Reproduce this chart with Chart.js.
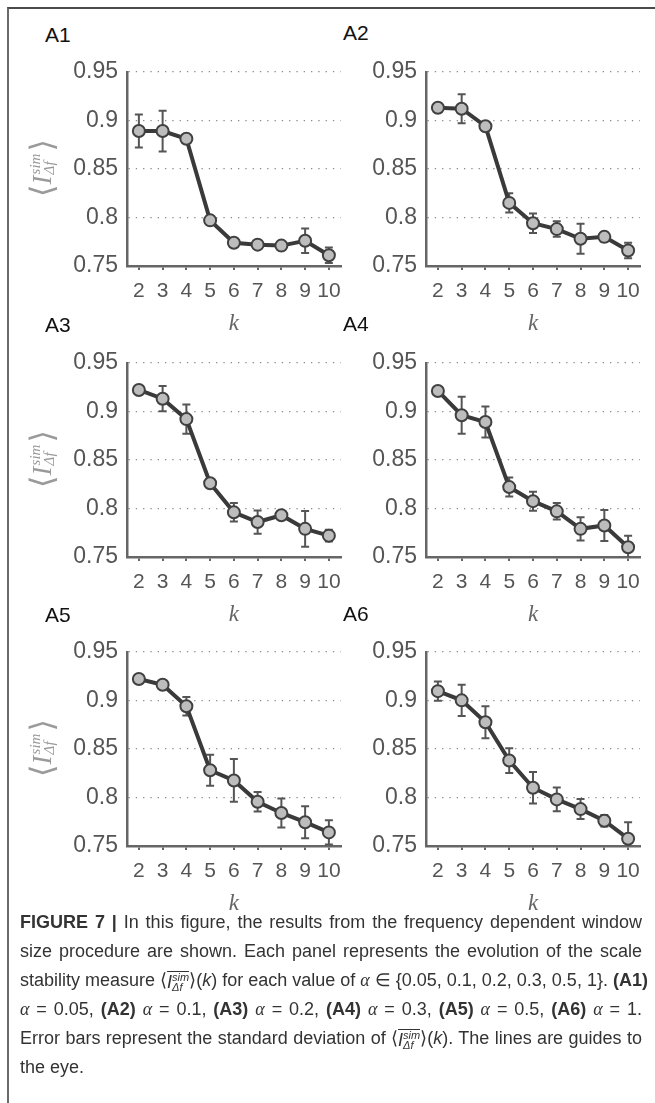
<!DOCTYPE html>
<html>
<head>
<meta charset="utf-8">
<script src="https://cdn.jsdelivr.net/npm/chart.js@4.4.1/dist/chart.umd.min.js"></script>
<style>
  body {
    margin: 0;
    width: 655px;
    height: 1103px;
    background: #fff;
    position: relative;
    overflow: hidden;
    font-family: "Liberation Sans", Arial, sans-serif;
  }
  .frame {
    position: absolute;
    left: 7px;
    top: 7px;
    width: 700px;
    height: 1200px;
    border-left: 2px solid #6a6a6a;
    border-top: 2px solid #4a4a4a;
  }
  canvas {
    position: absolute;
  }
  .panelName {
    position: absolute;
    font-size: 21px;
    line-height: 21px;
    color: #111;
    z-index: 2;
  }
  .yTitle {
    position: absolute;
    width: 90px;
    height: 36px;
    margin-left: -45px;
    margin-top: -18px;
    transform: rotate(-90deg);
    display: flex;
    align-items: center;
    justify-content: center;
    color: #9a9a9a;
    font-family: "Liberation Serif", serif;
    font-size: 27px;
    z-index: 2;
  }
  .yTitle .br {
    font-size: 32px;
    font-family: "DejaVu Serif", serif;
    font-weight: 300;
  }
  .yTitle .ss {
    display: inline-flex;
    flex-direction: column;
    font-size: 15px;
    line-height: 14px;
    font-style: italic;
    margin: 0 2px 0 1px;
  }
  .caption {
    position: absolute;
    left: 20px;
    top: 908px;
    width: 622px;
    font-size: 18px;
    color: #333;
  }
  .caption .ln {
    height: 29px;
    line-height: 29px;
    white-space: nowrap;
    text-align: justify;
    text-align-last: justify;
  }
  .caption .last {
    text-align-last: left;
  }
  .caption .m {
    font-family: "Liberation Serif", serif;
    font-style: italic;
  }
  .caption .ov {
    display: inline-flex;
    align-items: center;
    border-top: 1px solid #333;
    line-height: 1;
    vertical-align: middle;
  }
  .caption .ss2 {
    display: inline-flex;
    flex-direction: column;
    font-size: 11px;
    line-height: 10px;
    font-style: italic;
  }
</style>
</head>
<body>
<div class="frame"></div>
<div id="figure"></div>
<div class="caption">
  <div class="ln"><b>FIGURE 7 |</b> In this figure, the results from the frequency dependent window</div>
  <div class="ln">size procedure are shown. Each panel represents the evolution of the scale</div>
  <div class="ln">stability measure ⟨<span class="ov"><i>I</i><span class="ss2"><span>sim</span><span>Δf</span></span></span>⟩(<i>k</i>) for each value of <span class="m">α</span> ∈ {0.05, 0.1, 0.2, 0.3, 0.5, 1}. <b>(A1)</b></div>
  <div class="ln"><span class="m">α</span> = 0.05, <b>(A2)</b> <span class="m">α</span> = 0.1, <b>(A3)</b> <span class="m">α</span> = 0.2, <b>(A4)</b> <span class="m">α</span> = 0.3, <b>(A5)</b> <span class="m">α</span> = 0.5, <b>(A6)</b> <span class="m">α</span> = 1.</div>
  <div class="ln">Error bars represent the standard deviation of ⟨<span class="ov"><i>I</i><span class="ss2"><span>sim</span><span>Δf</span></span></span>⟩(<i>k</i>). The lines are guides to</div>
  <div class="ln last">the eye.</div>
</div>
<script>
// data
const kValues = ["2", "3", "4", "5", "6", "7", "8", "9", "10"];
const yTicks = [0.75, 0.8, 0.85, 0.9, 0.95];
const panelNames = ["A1", "A2", "A3", "A4", "A5", "A6"];

const meanA1 = [0.889, 0.889, 0.881, 0.797, 0.774, 0.772, 0.771, 0.776, 0.761];
const sdA1 = [0.017, 0.021, 0.004, 0.004, 0.004, 0.004, 0.002, 0.0125, 0.008];
const meanA2 = [0.913, 0.912, 0.894, 0.815, 0.794, 0.788, 0.778, 0.78, 0.766];
const sdA2 = [0.003, 0.015, 0.003, 0.01, 0.01, 0.008, 0.0155, 0.005, 0.008];
const meanA3 = [0.922, 0.913, 0.892, 0.826, 0.796, 0.786, 0.793, 0.779, 0.772];
const sdA3 = [0.002, 0.013, 0.015, 0.003, 0.0095, 0.012, 0.004, 0.0185, 0.006];
const meanA4 = [0.921, 0.896, 0.889, 0.822, 0.8075, 0.797, 0.779, 0.7825, 0.76];
const sdA4 = [0.002, 0.019, 0.016, 0.0098, 0.0098, 0.0085, 0.012, 0.016, 0.012];
const meanA5 = [0.922, 0.916, 0.894, 0.828, 0.8175, 0.7955, 0.784, 0.7745, 0.764];
const sdA5 = [0.002, 0.002, 0.0095, 0.016, 0.022, 0.01, 0.015, 0.0165, 0.0125];
const meanA6 = [0.9095, 0.9, 0.8775, 0.838, 0.81, 0.798, 0.788, 0.776, 0.7575];
const sdA6 = [0.01, 0.016, 0.0165, 0.0127, 0.0163, 0.0123, 0.0103, 0.006, 0.017];

const allMeans = [meanA1, meanA2, meanA3, meanA4, meanA5, meanA6];
const allSds = [sdA1, sdA2, sdA3, sdA4, sdA5, sdA6];

// layout of the panels (plot area edges in page pixels)
const rowTops = [69, 360, 649];
const plotHeight = 197;
const colLeft = [127, 426];
const colRight = [342, 640];
const canvasLeft = [15, 350];
const canvasWidth = [335, 305];
const topPad = 20;
const xAxisHeight = 74;
const namePos = [[45, 24], [343, 22], [45, 314], [343, 313], [45, 604], [343, 603]];

// draws the error bars under the markers
const errorBarPlugin = {
  id: "errorBars",
  beforeDatasetsDraw(chart) {
    const ctx = chart.ctx;
    const area = chart.chartArea;
    const dataset = chart.data.datasets[0];
    const meta = chart.getDatasetMeta(0);
    const yScale = chart.scales.y;
    ctx.save();
    ctx.beginPath();
    ctx.rect(area.left, area.top - 10, area.right - area.left, area.bottom - area.top + 10);
    ctx.clip();
    ctx.strokeStyle = "#555";
    ctx.lineWidth = 2;
    meta.data.forEach((pt, i) => {
      const v = dataset.data[i];
      const e = dataset.errors[i];
      const top = yScale.getPixelForValue(v + e);
      const bot = yScale.getPixelForValue(v - e);
      ctx.beginPath();
      ctx.moveTo(pt.x, top);
      ctx.lineTo(pt.x, bot);
      ctx.moveTo(pt.x - 4, top);
      ctx.lineTo(pt.x + 4, top);
      ctx.moveTo(pt.x - 4, bot);
      ctx.lineTo(pt.x + 4, bot);
      ctx.stroke();
    });
    ctx.restore();
  },
};

const figure = document.getElementById("figure");

for (let i = 0; i < panelNames.length; i++) {
  const col = i % 2;
  const row = Math.floor(i / 2);
  const cTop = rowTops[row] - topPad;
  const cHeight = topPad + plotHeight + xAxisHeight;

  const canvas = document.createElement("canvas");
  canvas.width = canvasWidth[col];
  canvas.height = cHeight;
  canvas.style.left = canvasLeft[col] + "px";
  canvas.style.top = cTop + "px";
  figure.appendChild(canvas);

  // panel letter
  const nameDom = document.createElement("div");
  nameDom.className = "panelName";
  nameDom.textContent = panelNames[i];
  nameDom.style.left = namePos[i][0] + "px";
  nameDom.style.top = namePos[i][1] + "px";
  figure.appendChild(nameDom);

  // y title only on left panels
  if (col == 0) {
    const yTitle = document.createElement("div");
    yTitle.className = "yTitle";
    yTitle.innerHTML =
      '<span class="br">⟨</span><i>I</i><span class="ss"><span>sim</span><span>Δf</span></span><span class="br">⟩</span>';
    yTitle.style.left = "42px";
    yTitle.style.top = rowTops[row] + plotHeight / 2 + "px";
    figure.appendChild(yTitle);
  }

  new Chart(canvas.getContext("2d"), {
    type: "line",
    data: {
      labels: kValues,
      datasets: [
        {
          data: allMeans[i],
          errors: allSds[i],
          borderColor: "#3a3a3a",
          borderWidth: 4,
          pointRadius: 6,
          pointBorderWidth: 2,
          pointBackgroundColor: "#bdbdbd",
          pointBorderColor: "#404040",
          clip: false,
          tension: 0,
        },
      ],
    },
    options: {
      responsive: false,
      animation: false,
      devicePixelRatio: 1,
      layout: {
        padding: { top: topPad, right: canvasWidth[col] + canvasLeft[col] - colRight[col], bottom: 0, left: 0 },
      },
      plugins: {
        legend: { display: false },
        tooltip: { enabled: false },
      },
      scales: {
        x: {
          type: "category",
          offset: true,
          afterFit: (scale) => {
            scale.height = xAxisHeight;
          },
          grid: {
            offset: false,
            drawOnChartArea: false,
            drawTicks: true,
            tickLength: 4,
            color: "#666",
            lineWidth: 2,
          },
          border: { color: "#666", width: 2.5 },
          ticks: {
            color: "#555",
            padding: 9,
            maxRotation: 0,
            autoSkip: false,
            font: { family: "'Liberation Sans', Arial, sans-serif", size: 21 },
          },
          title: {
            display: true,
            text: "k",
            color: "#666",
            padding: { top: 4, bottom: 2 },
            font: { family: "'Liberation Serif', serif", size: 23, style: "italic" },
          },
        },
        y: {
          min: 0.75,
          max: 0.95,
          afterFit: (scale) => {
            scale.width = colLeft[col] - canvasLeft[col];
          },
          afterBuildTicks: (scale) => {
            scale.ticks = yTicks.map((v) => ({ value: v }));
          },
          grid: {
            drawTicks: false,
            color: "#8a8a8a",
            lineWidth: 1.3,
          },
          border: { color: "#666", width: 2.5, dash: [1.3, 6] },
          ticks: {
            color: "#555",
            padding: 9,
            callback: (v) => String(+Number(v).toFixed(2)),
            font: { family: "'Liberation Sans', Arial, sans-serif", size: 23 },
          },
        },
      },
    },
    plugins: [errorBarPlugin],
  });
}
</script>
</body>
</html>
